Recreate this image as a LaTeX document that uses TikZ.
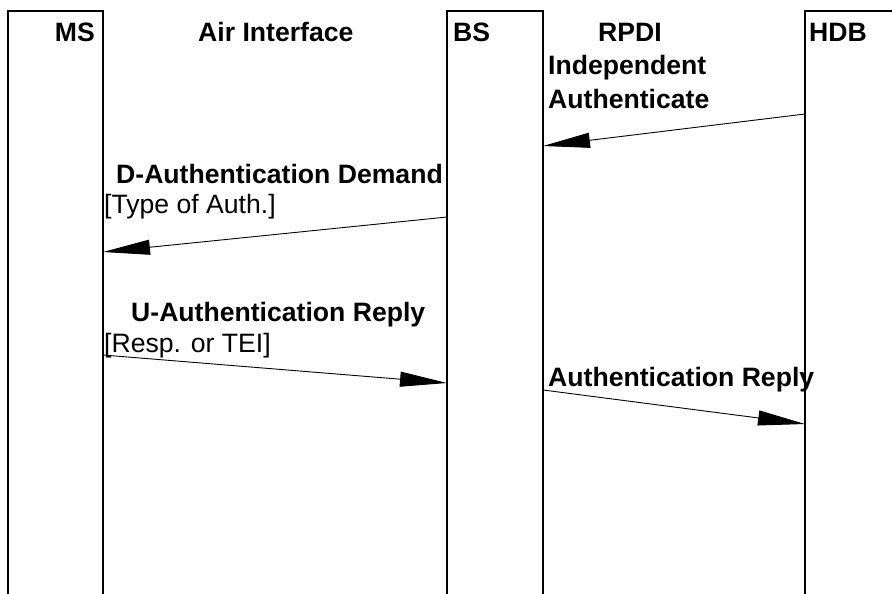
\documentclass[tikz,border=0pt]{standalone}
\usepackage{fontspec}
\setmainfont{Liberation Sans}
\usetikzlibrary{arrows.meta}
\begin{document}
\begin{tikzpicture}[x=1pt,y=-1pt,
  box/.style={line width=2pt},
  msg/.style={line width=0.9pt,-{Triangle[length=47pt,width=15pt]}},
  title/.style={font=\fontsize{26.6}{33}\selectfont\bfseries,inner sep=0pt},
  note/.style={font=\fontsize{26.6}{33}\selectfont,inner sep=0pt}]
\useasboundingbox (0,0) rectangle (892,594);
% lifeline boxes
\draw[box] (8,594) -- (8,11) -- (103,11) -- (103,594);
\draw[box] (447,594) -- (447,11) -- (543,11) -- (543,594);
\draw[box] (805,594) -- (805,11) -- (895,11);
% headers
\node[title,anchor=base east] (ms) at (95,42) {MS};
\node[title,anchor=base west] (air) at (198,42) {Air Interface};
\node[title,anchor=base west] (bs) at (453,42) {BS};
\node[title,anchor=base west] (rpdi) at (598,42) {RPDI};
\node[title,anchor=base west] (indep) at (548,75) {Independent};
\node[title,anchor=base west] (authc) at (548,109) {Authenticate};
\node[title,anchor=base west] (hdb) at (809,42) {HDB};
% message labels
\node[title,anchor=base west] (dad) at (116,183) {D-Authentication Demand};
\node[note,anchor=base west] (toa) at (104,213) {[Type of Auth.]};
\node[title,anchor=base west] (uar) at (131,321) {U-Authentication Reply};
\node[note,anchor=base west] (rot) at (104,352) {[Resp. or TEI]};
\node[title,anchor=base west] (ar) at (548,386) {Authentication Reply};
% message endpoints
\coordinate (h1) at (805,114); \coordinate (b1) at (543,146);
\coordinate (b2) at (447,217); \coordinate (m2) at (103,252);
\coordinate (m3) at (103,355); \coordinate (b3) at (447,383);
\coordinate (b4) at (543,390); \coordinate (h4) at (805,424);
\draw[msg] (h1) -- (b1);
\draw[msg] (b2) -- (m2);
\draw[msg] (m3) -- (b3);
\draw[msg] (b4) -- (h4);
\end{tikzpicture}
\end{document}
